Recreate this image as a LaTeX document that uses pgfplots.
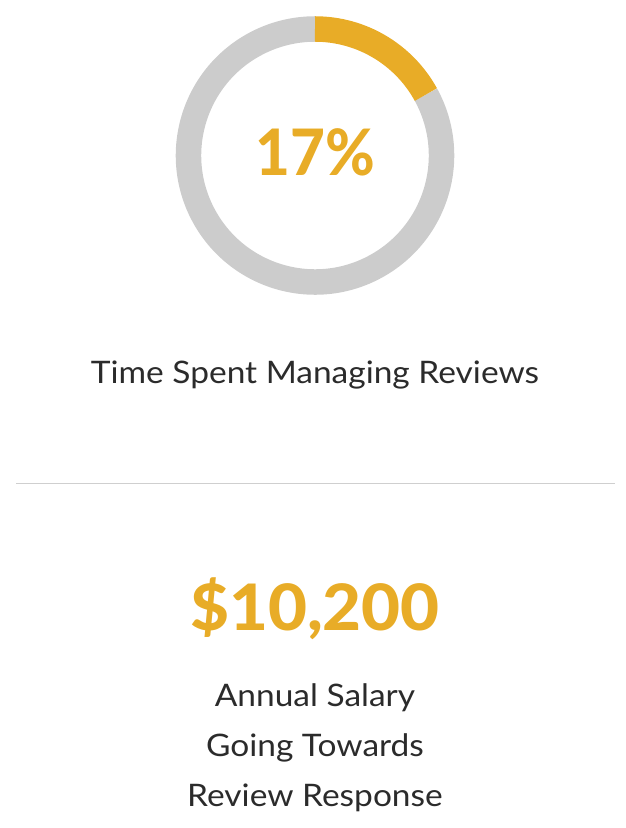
\documentclass[border=0pt]{standalone}
\usepackage{fontspec}
\setmainfont{Lato}
\newfontfamily\bodyfont[FakeStretch=1.08]{Lato}
\newfontfamily\heavyfont{Lato Heavy}
\usepackage{graphicx}
\usepackage{pgfplots}
\usepackage{pgfplotstable}
\pgfplotsset{compat=1.18}

\definecolor{gold}{HTML}{E8AC27}
\definecolor{ringgray}{HTML}{CCCCCC}
\definecolor{rulegray}{HTML}{CFCFCF}
\definecolor{txt}{HTML}{2B2B2B}

% share of time spent managing reviews, rest of the ring
\pgfplotstableread{
label   value
Reviews 17
Other   83
}\donutdata
\pgfplotstablegetelem{0}{value}\of\donutdata
\let\share\pgfplotsretval
\pgfmathsetmacro{\endA}{90-3.6*\share}

\begin{document}
\begin{tikzpicture}[x=1pt,y=1pt]
  \path (0pt,0pt) rectangle (625pt,828pt);
  \begin{axis}[
    ,scale only axis
    ,width=278pt, height=278pt
    ,xmin=-1, xmax=1, ymin=-1, ymax=1
    ,hide axis
    ,clip=false
    ,at={(315pt,672.5pt)}, anchor=center
    ]
    \addplot[draw=none] coordinates {(0,0)};
    \draw[ringgray, line width=25.5pt] (axis cs:0,0) ++(\endA:126.5pt)
      arc[start angle=\endA, end angle=-270, radius=126.5pt];
    \draw[gold, line width=25.5pt] (axis cs:0,0) ++(90:126.5pt)
      arc[start angle=90, end angle=\endA, radius=126.5pt];
  \end{axis}
  \node[anchor=base, text=gold, inner sep=0pt,
        font=\fontsize{64}{64}\selectfont\heavyfont] at (315pt,652.5pt)
        {\scalebox{0.94}[1]{\share\%}};
  \node[anchor=base, text=txt, inner sep=0pt,
        font=\fontsize{31}{31}\selectfont\bodyfont] at (315pt,444pt) {Time Spent Managing Reviews};
  \draw[rulegray, line width=1pt] (16pt,344pt) -- (615pt,344pt);
  \node[anchor=base, text=gold, inner sep=0pt,
        font=\fontsize{64}{64}\selectfont\heavyfont] at (315pt,197pt)
        {\scalebox{1.05}[1]{\$10,200}};
  \node[anchor=base, text=txt, inner sep=0pt,
        font=\fontsize{31}{31}\selectfont\bodyfont] at (315pt,121pt) {Annual Salary};
  \node[anchor=base, text=txt, inner sep=0pt,
        font=\fontsize{31}{31}\selectfont\bodyfont] at (315pt,71pt) {Going Towards};
  \node[anchor=base, text=txt, inner sep=0pt,
        font=\fontsize{31}{31}\selectfont\bodyfont] at (315pt,21pt) {Review Response};
\end{tikzpicture}
\end{document}
